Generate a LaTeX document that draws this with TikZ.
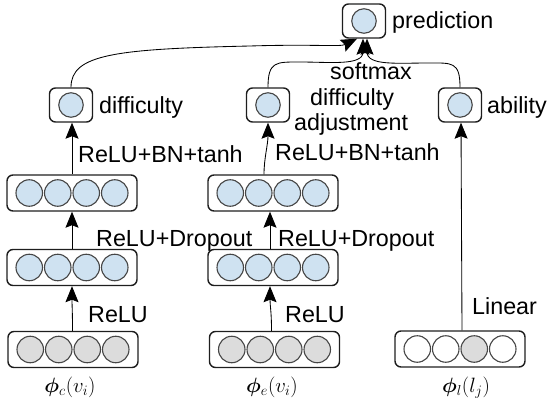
\documentclass[tikz,border=0pt]{standalone}
\usepackage{amsmath}
\usepackage{bm}
\usepackage{fontspec}
\setmainfont{Liberation Sans}
\usetikzlibrary{arrows.meta}

\definecolor{cblue}{RGB}{207,226,241}
\definecolor{cgrey}{RGB}{220,220,220}
\definecolor{cedge}{RGB}{70,70,70}
\definecolor{bedge}{RGB}{30,30,30}

\newcommand{\lblfont}{\fontsize{23.3}{27}\selectfont}
\newcommand{\mathlbl}{\fontsize{20.5}{24}\selectfont}

\tikzset{
  lbl/.style={font=\lblfont, anchor=base west, inner sep=0pt},
  mlbl/.style={font=\mathlbl, anchor=center, inner sep=0pt},
  unit/.style={circle, draw=cedge, line width=1.1pt, minimum size=26.5pt, inner sep=0pt},
  blueunit/.style={unit, fill=cblue},
  greyunit/.style={unit, fill=cgrey},
  whiteunit/.style={unit, fill=white},
  smallunit/.style={circle, draw=cedge, line width=1.1pt, minimum size=24.5pt, inner sep=0pt, fill=cblue},
  layerbox/.style={draw=bedge, line width=1.4pt, rounded corners=6pt,
    minimum width=130pt, minimum height=36pt, inner sep=0pt},
  singlebox/.style={draw=bedge, line width=1.4pt, rounded corners=6pt,
    minimum width=43pt, minimum height=34pt, inner sep=0pt},
  conn/.style={line width=0.85pt, draw=black,
    -{Stealth[length=16pt,width=13pt,inset=2.5pt]}},
}

\begin{document}
\begin{tikzpicture}[x=1pt,y=-1pt]
\useasboundingbox (0,0) rectangle (548,403);

% ---- output unit and the three scalar units ----
\node[singlebox] (pred) at (364,21) {};
\node[smallunit] (pred-c) at (pred.center) {};
\node[singlebox] (diffL) at (71,105) {};
\node[smallunit] (diffL-c) at (diffL.center) {};
\node[singlebox] (adj) at (268,105) {};
\node[smallunit] (adj-c) at (adj.center) {};
\node[singlebox] (abil) at (460,105) {};
\node[smallunit] (abil-c) at (abil.center) {};

% ---- layers of the left branch ----
\node[layerbox] (Ltop) at (72,193) {};
\node[layerbox] (Lmid) at (72,267.5) {};
\node[layerbox] (Lbot) at (73,349.5) {};
% ---- layers of the middle branch ----
\node[layerbox] (Mtop) at (273,193) {};
\node[layerbox] (Mmid) at (273,267.5) {};
\node[layerbox] (Mbot) at (274.5,349.5) {};
% ---- input of the right branch ----
\node[layerbox] (Rbot) at (460,349) {};

\foreach \L in {Ltop,Lmid,Mtop,Mmid}{
  \foreach \k/\dx in {1/-42.75,2/-14.25,3/14.25,4/42.75}{
    \node[blueunit] (\L-\k) at ([xshift=\dx pt]\L.center) {};
  }
}
\foreach \L in {Lbot,Mbot}{
  \foreach \k/\dx in {1/-42.75,2/-14.25,3/14.25,4/42.75}{
    \node[greyunit] (\L-\k) at ([xshift=\dx pt]\L.center) {};
  }
}
\node[whiteunit] (Rbot-1) at ([xshift=-42.75pt]Rbot.center) {};
\node[whiteunit] (Rbot-2) at ([xshift=-14.25pt]Rbot.center) {};
\node[greyunit]  (Rbot-3) at ([xshift=14.25pt]Rbot.center) {};
\node[whiteunit] (Rbot-4) at ([xshift=42.75pt]Rbot.center) {};

% ---- labels ----
\node[lbl] (t-pred) at (392,29) {prediction};
\node[lbl] (t-diff) at (99,114) {difficulty};
\node[lbl] (t-abil) at (487,114) {ability};
\node[lbl] (t-soft) at (330,80) {softmax};
\node[lbl] (t-adj1) at (310,106) {difficulty};
\node[lbl] (t-adj2) at (294,131) {adjustment};
\node[lbl] (t-bnL) at (78,163) {ReLU+BN+tanh};
\node[lbl] (t-bnM) at (275,161) {ReLU+BN+tanh};
\node[lbl] (t-doL) at (96,246) {ReLU+Dropout};
\node[lbl] (t-doM) at (278,246) {ReLU+Dropout};
\node[lbl] (t-reL) at (88,322) {ReLU};
\node[lbl] (t-reM) at (285,322) {ReLU};
\node[lbl] (t-lin) at (472,314) {Linear};

\node[mlbl] (m-c) at (70,387) {$\bm{\phi}_c(v_i)$};
\node[mlbl] (m-e) at (272,387) {$\bm{\phi}_e(v_i)$};
\node[mlbl] (m-l) at (466,388) {$\bm{\phi}_l(l_j)$};

% ---- left branch ----
\draw[conn] ([xshift=-0.5pt]Lbot.north) .. controls +(0,-20) and +(0,20) .. (Lmid.north |- Lmid.south);
\draw[conn] (Lmid.north) -- (Lmid.north |- Ltop.south);
\draw[conn] (Ltop.north) -- (Ltop.north |- diffL.south);
% ---- middle branch ----
\draw[conn] ([xshift=-3pt]Mbot.north) .. controls +(0,-20) and +(0,20) .. ([xshift=-3pt]Mmid.south);
\draw[conn] ([xshift=-3pt]Mmid.north) -- ([xshift=-3pt]Mtop.south);
\draw[conn] ([xshift=-9pt]Mtop.north) .. controls +(0,-16) and +(0,22) .. (adj.south);
% ---- right branch ----
\draw[conn] ([xshift=2pt]Rbot.north) -- ([xshift=1pt]abil.south);

% ---- into the prediction ----
\draw[conn] (diffL.north) .. controls +(0,-33) and (115,49) .. (250,46)
  .. controls (315,44) and (340,47) .. ([xshift=-7pt]pred.south);
\draw[conn] (adj.north) .. controls +(0,-26) and (276,62) .. (300,62)
  .. controls (330,62) and (363,66) .. ([xshift=-1pt]pred.south);
\draw[conn] (abil.north) .. controls +(0,-26) and (452,63) .. (428,63)
  .. controls (398,63) and (367,66) .. ([xshift=3pt]pred.south);
\end{tikzpicture}
\end{document}
